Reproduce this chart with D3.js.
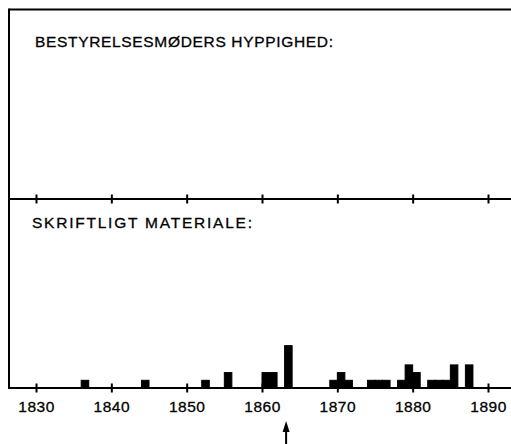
<!DOCTYPE html>
<html><head><meta charset="utf-8">
<script src="https://cdn.jsdelivr.net/npm/d3@7"></script>
<style>
html,body{margin:0;padding:0;background:#fff;}
svg text{font-family:"Liberation Sans",Arial,sans-serif;fill:#000;stroke:#000;stroke-width:0.3px;}
</style></head>
<body><svg id="c" width="511" height="444"></svg>
<script>
const years  = [1836,1844,1852,1855,1860,1861,1863,1869,1870,1871,1874,1875,1876,1878,1879,1880,1882,1883,1884,1885,1887];
const counts = [1,   1,   1,   2,   2,   2,   5.5, 1,   2,   1,   1,   1,   1,   1,   3,   2,   1,   1,   1,   3,   3];
const tickYears = [1830,1840,1850,1860,1870,1880,1890];
const panelTitles = ["BESTYRELSESMØDERS HYPPIGHED:", "SKRIFTLIGT MATERIALE:"];
const arrowYear = [1863.2];

const svg = d3.select("#c");
const x = d3.scaleLinear().domain([1830,1890]).range([36,488]);
const y = d3.scaleLinear().domain([0,1]).range([388,380.3]);

// frame
svg.append("line").attr("x1",9).attr("x2",511).attr("y1",9.5).attr("y2",9.5).attr("stroke","#000").attr("stroke-width",2);
svg.append("line").attr("x1",9).attr("x2",9).attr("y1",8.5).attr("y2",389).attr("stroke","#000").attr("stroke-width",2);

// axes
function axisAt(yPos, labels){
  const ax = d3.axisBottom(x).tickValues(tickYears).tickFormat(labels ? d3.format("d") : "").tickSize(0);
  const g = svg.append("g").attr("transform",`translate(0,${yPos})`).call(ax);
  g.select(".domain").remove();
  g.append("line").attr("x1",9).attr("x2",511).attr("stroke","#000").attr("stroke-width",2);
  g.selectAll(".tick").append("line").attr("y1",-4.5).attr("y2",4.5).attr("stroke","#000").attr("stroke-width",2);
  g.selectAll(".tick text").attr("y",23.5).attr("dy",0).attr("font-size",15.5).attr("letter-spacing","0.5px")
    .attr("font-family","Liberation Sans, Arial, sans-serif").attr("fill","#000").attr("stroke","#000").attr("stroke-width",0.35);
  return g;
}
axisAt(199,false);
axisAt(388,true);

// bars
svg.append("g").selectAll("rect").data(years).join("rect")
  .attr("x",d=>x(d)).attr("width",d=>x(d+1)-x(d))
  .attr("y",(d,i)=>y(counts[i])).attr("height",(d,i)=>y(0)-y(counts[i]))
  .attr("fill","#000").attr("stroke","#000").attr("stroke-width",1);

// titles
svg.append("text").attr("x",35).attr("y",47).attr("font-size",15.5).attr("textLength",298).attr("lengthAdjust","spacing").text(panelTitles[0]);
svg.append("text").attr("x",32).attr("y",227.5).attr("font-size",15.5).attr("textLength",220).attr("lengthAdjust","spacing").text(panelTitles[1]);

// arrow
arrowYear.forEach(a=>{
  const ax = x(a);
  svg.append("line").attr("x1",ax).attr("x2",ax).attr("y1",428).attr("y2",444).attr("stroke","#000").attr("stroke-width",2);
  svg.append("path").attr("d",`M${ax},421 L${ax-3.5},432 L${ax+3.5},432 Z`).attr("fill","#000");
});
</script></body></html>
